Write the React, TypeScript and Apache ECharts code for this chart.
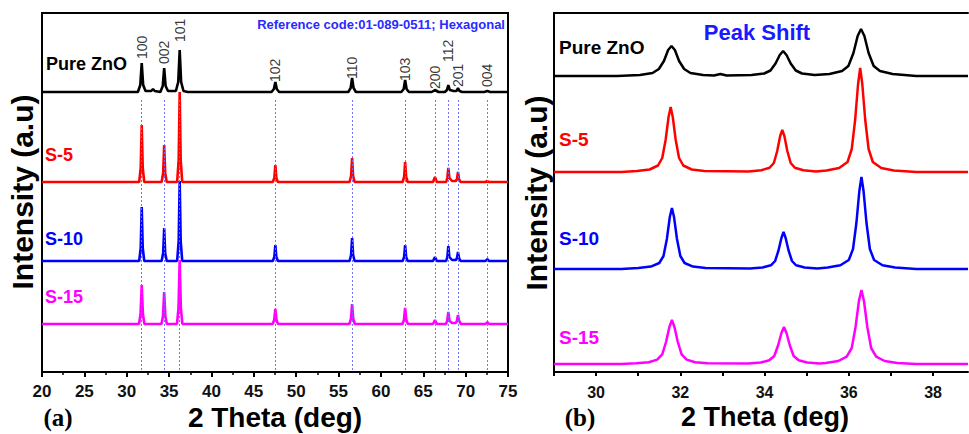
import React, { useEffect, useRef } from "react";
import * as echarts from "echarts";

// ---------- data ----------
const seriesNames = ["Pure ZnO", "S-5", "S-10", "S-15"];
const seriesColors = ["#000000", "#ff0000", "#0000ff", "#ff00ff"];

// reference pattern (01-089-0511, hexagonal ZnO)
const hklNames = ["100", "002", "101", "102", "110", "103", "200", "112", "201", "004"];
const refPositions = [31.77, 34.42, 36.25, 47.54, 56.6, 62.86, 66.38, 67.96, 69.1, 72.56];
const hklLabelLevel = [32, 27, 49, 9, 12, 10, 2, 29, 4, 4];

const xTicksA = { min: 20, max: 75, interval: 5 };
const xTicksB = { min: 29, max: 38.83, interval: 1 };

// panel (a): full pattern, intensity (a.u.) above each pattern's own baseline
const aPure = [
  [20, 0], [31.32, 0], [31.6, 7], [31.77, 29], [31.94, 7], [32.22, 1], [32.9, 1], [33.1, 3], [33.3, 1],
  [33.97, 0], [34.25, 6], [34.42, 24], [34.59, 6], [34.87, 1], [35.8, 1], [36.08, 10], [36.25, 42], [36.42, 10],
  [36.7, 1], [37.2, 0], [47.09, 0], [47.37, 3], [47.54, 10], [47.71, 3], [47.99, 0],
  [56.15, 0], [56.43, 4], [56.6, 14], [56.77, 4], [57.05, 0],
  [62.41, 0], [62.69, 3], [62.86, 12], [63.03, 3], [63.31, 0],
  [66.0, 0], [66.38, 2], [66.8, 0],
  [67.55, 0], [67.79, 2], [67.96, 7], [68.13, 2], [68.6, 1], [68.93, 1], [69.1, 4], [69.27, 1], [69.6, 0],
  [72.2, 0], [72.56, 1], [72.9, 0], [75, 0],
];
const aS5 = [
  [20, 0], [31.47, 0], [31.65, 14], [31.77, 57], [31.89, 14], [32.07, 0],
  [34.12, 0], [34.3, 9], [34.42, 37], [34.54, 9], [34.72, 0],
  [35.95, 0], [36.13, 22], [36.25, 90], [36.37, 22], [36.55, 0],
  [47.24, 0], [47.42, 4], [47.54, 17], [47.66, 4], [47.84, 0],
  [56.3, 0], [56.48, 6], [56.6, 24], [56.72, 6], [56.9, 0],
  [62.56, 0], [62.74, 5], [62.86, 20], [62.98, 5], [63.16, 0],
  [66.15, 0], [66.38, 5], [66.6, 0],
  [67.7, 0], [67.84, 4], [67.96, 14], [68.08, 4], [68.4, 1], [68.85, 1], [68.98, 3], [69.1, 10], [69.22, 3], [69.4, 0],
  [72.35, 0], [72.56, 1], [72.75, 0], [75, 0],
];
const aS10 = [
  [20, 0], [31.47, 0], [31.65, 13], [31.77, 54], [31.89, 13], [32.07, 0],
  [34.12, 0], [34.3, 8], [34.42, 33], [34.54, 8], [34.72, 0],
  [35.95, 0], [36.13, 20], [36.25, 80], [36.37, 20], [36.55, 0],
  [47.24, 0], [47.42, 4], [47.54, 16], [47.66, 4], [47.84, 0],
  [56.3, 0], [56.48, 6], [56.6, 23], [56.72, 6], [56.9, 0],
  [62.56, 0], [62.74, 4], [62.86, 16], [62.98, 4], [63.16, 0],
  [66.15, 0], [66.38, 4], [66.6, 0],
  [67.7, 0], [67.84, 4], [67.96, 15], [68.08, 4], [68.4, 1], [68.85, 1], [68.98, 3], [69.1, 9], [69.22, 3], [69.4, 0],
  [72.35, 0], [72.56, 2], [72.75, 0], [75, 0],
];
const aS15 = [
  [20, 0], [31.45, 0], [31.63, 10], [31.77, 39], [31.91, 10], [32.09, 0],
  [34.1, 0], [34.28, 8], [34.42, 32], [34.56, 8], [34.74, 0],
  [35.93, 0], [36.11, 16], [36.25, 64], [36.39, 16], [36.57, 0],
  [47.22, 0], [47.4, 4], [47.54, 15], [47.68, 4], [47.86, 0],
  [56.28, 0], [56.46, 5], [56.6, 20], [56.74, 5], [56.92, 0],
  [62.54, 0], [62.72, 4], [62.86, 16], [63.0, 4], [63.18, 0],
  [66.15, 0], [66.38, 4], [66.6, 0],
  [67.68, 0], [67.82, 3], [67.96, 12], [68.1, 3], [68.4, 1], [68.85, 1], [68.96, 3], [69.1, 9], [69.24, 3], [69.45, 0],
  [72.35, 0], [72.56, 2], [72.75, 0], [75, 0],
];

// panel (b): zoom on the 100 / 002 / 101 reflections
const bPure = [
  [29, 0], [30.5, 0],
  [31.04, 1], [31.34, 3], [31.49, 7], [31.61, 15], [31.71, 26], [31.79, 30], [31.87, 26], [31.97, 15], [32.09, 7], [32.24, 3], [32.54, 1],
  [32.8, 0.5], [32.95, 2], [33.1, 0.5],
  [33.69, 1], [33.99, 2.5], [34.14, 5.5], [34.26, 12.5], [34.36, 21], [34.44, 25], [34.52, 21], [34.62, 12.5], [34.74, 5.5], [34.89, 2.5], [35.19, 1],
  [35.54, 2], [35.84, 5], [35.99, 10], [36.11, 23], [36.21, 40], [36.29, 47], [36.37, 40], [36.47, 23], [36.59, 10], [36.74, 5], [37.04, 2],
  [37.6, 0], [38.83, 0],
];
const bS5 = [
  [29, 0], [30.6, 0],
  [30.97, 1], [31.27, 2.5], [31.47, 6.5], [31.57, 14], [31.65, 32], [31.72, 55], [31.77, 65], [31.82, 55], [31.89, 32], [31.97, 14], [32.07, 6.5], [32.27, 2.5], [32.57, 1],
  [33.62, 0.6], [33.92, 1.7], [34.12, 4.2], [34.22, 9], [34.3, 21], [34.37, 36], [34.42, 42], [34.47, 36], [34.54, 21], [34.62, 9], [34.72, 4.2], [34.92, 1.7], [35.22, 0.6],
  [35.47, 1.5], [35.77, 4], [35.97, 10], [36.07, 23], [36.15, 52], [36.22, 88], [36.27, 104], [36.32, 88], [36.39, 52], [36.47, 23], [36.57, 10], [36.77, 4], [37.07, 1.5],
  [37.6, 0], [38.83, 0],
];
const bS10 = [
  [29, 0], [30.6, 0],
  [31.0, 1], [31.3, 2.4], [31.5, 6], [31.6, 13], [31.68, 30], [31.75, 52], [31.8, 61], [31.85, 52], [31.92, 30], [32.0, 13], [32.1, 6], [32.3, 2.4], [32.6, 1],
  [33.65, 0.5], [33.95, 1.5], [34.15, 3.7], [34.25, 8], [34.33, 18.5], [34.4, 31], [34.45, 37], [34.5, 31], [34.57, 18.5], [34.65, 8], [34.75, 3.7], [34.95, 1.5], [35.25, 0.5],
  [35.5, 1.4], [35.8, 3.7], [36.0, 9], [36.1, 20], [36.18, 46], [36.25, 78], [36.3, 92], [36.35, 78], [36.42, 46], [36.5, 20], [36.6, 9], [36.8, 3.7], [37.1, 1.4],
  [37.6, 0], [38.83, 0],
];
const bS15 = [
  [29, 0], [30.6, 0],
  [30.95, 0.7], [31.25, 1.8], [31.45, 4.4], [31.57, 9.7], [31.66, 22], [31.74, 37], [31.8, 44], [31.86, 37], [31.94, 22], [32.03, 9.7], [32.15, 4.4], [32.35, 1.8], [32.65, 0.7],
  [33.61, 0.6], [33.91, 1.5], [34.11, 3.7], [34.23, 8], [34.32, 18.5], [34.4, 31], [34.46, 37], [34.52, 31], [34.6, 18.5], [34.69, 8], [34.81, 3.7], [35.01, 1.5], [35.31, 0.6],
  [35.45, 1.1], [35.75, 3], [35.95, 7.4], [36.07, 16], [36.16, 37], [36.24, 63], [36.3, 74], [36.36, 63], [36.44, 37], [36.53, 16], [36.65, 7.4], [36.85, 3], [37.15, 1.1],
  [37.6, 0], [38.83, 0],
];

// vertical stacking offsets (a.u.)
const offsetsA = [280, 190, 111, 48];
const offsetsB = [296, 200, 103, 8];
const refLineTop = 272;

const patternsA = [aPure, aS5, aS10, aS15];
const patternsB = [bPure, bS5, bS10, bS15];

const FONT = '"Liberation Sans", Arial, sans-serif';

function buildOption() {
  const shift = (pts: number[][], off: number) => pts.map(([x, y]) => [x, y + off]);

  const axisLineStyle = { show: true, onZero: false, lineStyle: { color: "#000", width: 2 } };

  const seriesA = patternsA.map((pts, i) => ({
    type: "line",
    name: seriesNames[i],
    xAxisIndex: 0,
    yAxisIndex: 0,
    data: shift(pts, offsetsA[i]),
    symbol: "none",
    silent: true,
    lineStyle: { color: seriesColors[i], width: 2.6 },
    itemStyle: { color: seriesColors[i] },
    ...(i === 0
      ? {
          markLine: {
            silent: true,
            symbol: "none",
            label: { show: false },
            lineStyle: { type: [2, 2], color: "#6b6bff", width: 1, opacity: 0.95 },
            data: refPositions.map((x) => [{ coord: [x, refLineTop] }, { coord: [x, 0] }]),
          },
        }
      : {}),
  }));

  const seriesB = patternsB.map((pts, i) => ({
    type: "line",
    name: seriesNames[i] + " (b)",
    xAxisIndex: 1,
    yAxisIndex: 1,
    data: shift(pts, offsetsB[i]),
    symbol: "none",
    silent: true,
    lineStyle: { color: seriesColors[i], width: 2.5 },
    itemStyle: { color: seriesColors[i] },
  }));

  const hklSeries = {
    type: "scatter",
    xAxisIndex: 0,
    yAxisIndex: 0,
    symbolSize: 0,
    silent: true,
    data: hklNames.map((n, i) => ({ name: n, value: [refPositions[i], offsetsA[0] + hklLabelLevel[i]] })),
    label: {
      show: true,
      formatter: "{b}",
      position: "top",
      distance: 1,
      rotate: 90,
      align: "left",
      verticalAlign: "middle",
      color: "#000",
      fontSize: 14,
      fontFamily: FONT,
    },
  };

  const txt = (text: string, x: number, y: number, size: number, color: string, extra: any = {}) => ({
    type: "text",
    x,
    y,
    silent: true,
    ...extra,
    style: {
      text,
      fill: color,
      fontSize: size,
      fontWeight: "bold",
      fontFamily: FONT,
      align: extra.align || "left",
      verticalAlign: "middle",
    },
  });

  const graphic = [
    txt("Reference code:01-089-0511; Hexagonal", 505, 24, 13, "#2a2aff", { align: "right" }),
    txt(seriesNames[0], 46, 64, 18, seriesColors[0]),
    txt(seriesNames[1], 45, 155, 18, seriesColors[1]),
    txt(seriesNames[2], 45, 239, 18, seriesColors[2]),
    txt(seriesNames[3], 45, 297, 18, seriesColors[3]),
    txt(seriesNames[0], 559, 47, 19, seriesColors[0]),
    txt(seriesNames[1], 559, 139, 19, seriesColors[1]),
    txt(seriesNames[2], 559, 238, 19, seriesColors[2]),
    txt(seriesNames[3], 559, 337, 19, seriesColors[3]),
    txt("Peak Shift", 757, 32, 22, "#1a1aff", { align: "center" }),
    txt("2 Theta (deg)", 275, 417, 28, "#000", { align: "center" }),
    txt("2 Theta (deg)", 765, 417, 27, "#000", { align: "center" }),
    txt("Intensity (a.u)", 22, 192, 30, "#000", { align: "center", rotation: Math.PI / 2 }),
    txt("Intensity (a.u)", 536, 193, 30, "#000", { align: "center", rotation: Math.PI / 2 }),
    {
      type: "text",
      x: 58,
      y: 417,
      silent: true,
      style: { text: "(a)", fill: "#000", fontSize: 25, fontWeight: "bold", fontFamily: '"Liberation Serif", serif', align: "center", verticalAlign: "middle" },
    },
    {
      type: "text",
      x: 580,
      y: 417,
      silent: true,
      style: { text: "(b)", fill: "#000", fontSize: 25, fontWeight: "bold", fontFamily: '"Liberation Serif", serif', align: "center", verticalAlign: "middle" },
    },
  ];

  return {
    animation: false,
    backgroundColor: "#ffffff",
    grid: [
      { left: 42, top: 13, width: 466, height: 359, show: true, borderColor: "#000", borderWidth: 2, containLabel: false },
      { left: 554, top: 13, width: 414, height: 359, show: false, containLabel: false },
    ],
    xAxis: [
      {
        type: "value",
        gridIndex: 0,
        min: xTicksA.min,
        max: xTicksA.max,
        interval: xTicksA.interval,
        axisLine: axisLineStyle,
        splitLine: { show: false },
        axisTick: { show: true, inside: false, length: 5, lineStyle: { color: "#000", width: 2 } },
        minorTick: { show: true, splitNumber: 2, length: 3, lineStyle: { color: "#000", width: 1.5 } },
        axisLabel: { color: "#111", fontSize: 17, fontWeight: "bold", fontFamily: FONT, margin: 11 },
      },
      {
        type: "value",
        gridIndex: 1,
        position: "bottom",
        min: xTicksB.min,
        max: xTicksB.max,
        interval: xTicksB.interval,
        axisLine: axisLineStyle,
        splitLine: { show: false },
        axisTick: { show: true, inside: false, length: 4, lineStyle: { color: "#000", width: 2 } },
        axisLabel: {
          color: "#111",
          fontSize: 16,
          fontWeight: "bold",
          fontFamily: FONT,
          margin: 12,
          showMaxLabel: false,
          formatter: (v: number) => (Math.abs(v % 2) < 1e-9 ? String(v) : ""),
        },
      },
      {
        type: "value",
        gridIndex: 1,
        position: "top",
        min: xTicksB.min,
        max: xTicksB.max,
        axisLine: axisLineStyle,
        splitLine: { show: false },
        axisTick: { show: false },
        axisLabel: { show: false },
      },
    ],
    yAxis: [
      { type: "value", gridIndex: 0, min: 0, max: 359, axisLine: axisLineStyle, splitLine: { show: false }, axisTick: { show: false }, axisLabel: { show: false } },
      { type: "value", gridIndex: 1, min: 0, max: 359, axisLine: axisLineStyle, splitLine: { show: false }, axisTick: { show: false }, axisLabel: { show: false } },
    ],
    series: [...seriesA, hklSeries, ...seriesB],
    graphic,
  };
}

export default function App() {
  const ref = useRef<HTMLDivElement>(null);
  useEffect(() => {
    if (!ref.current) return;
    const chart = echarts.init(ref.current, null, { renderer: "svg" });
    chart.setOption(buildOption() as any);
    return () => chart.dispose();
  }, []);
  return (
    <div
      ref={ref}
      style={{ position: "absolute", left: 0, top: 0, width: 969, height: 434, background: "#fff", overflow: "hidden" }}
    />
  );
}
